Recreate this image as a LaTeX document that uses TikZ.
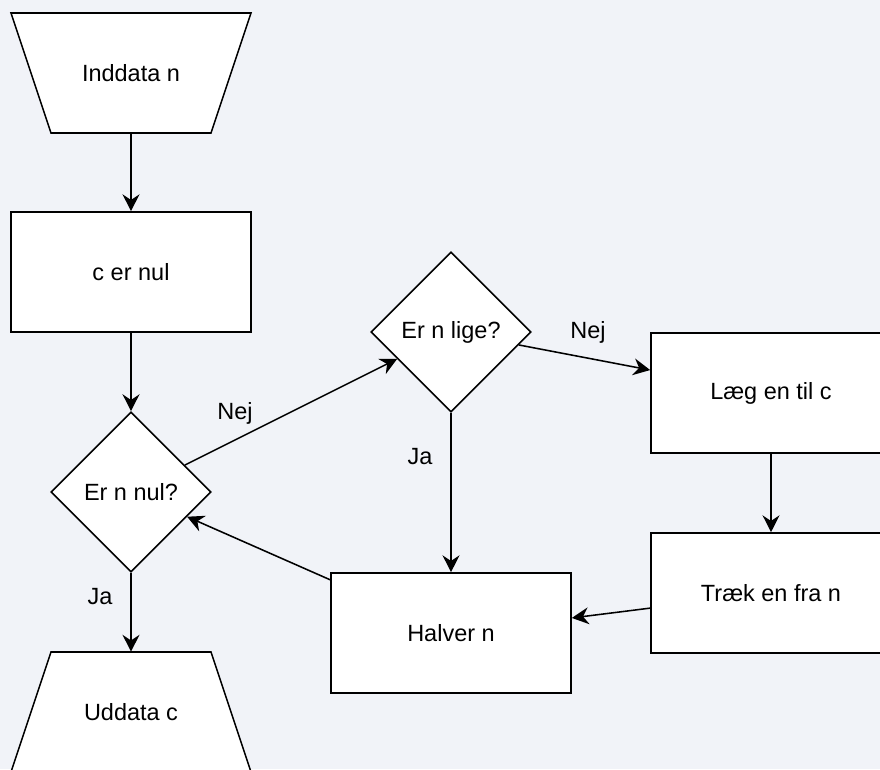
\documentclass[tikz,border=0pt]{standalone}
\usepackage{fontspec}
\setmainfont{Liberation Sans}
\usetikzlibrary{arrows.meta,shapes.geometric}
\definecolor{bgpage}{RGB}{241,243,248}
\tikzset{
  procbox/.style={draw,fill=white,line width=1.1pt,minimum width=6cm,minimum height=3cm,inner sep=0pt},
  choice/.style={draw,fill=white,line width=1.1pt,diamond,aspect=1,minimum width=4cm,minimum height=4cm,inner sep=0pt},
  iobox/.style={minimum width=6cm,minimum height=3cm,inner sep=0pt},
  trap/.style={draw,fill=white,line width=1.1pt,line join=miter},
  arrowline/.style={line width=1.1pt,-{Stealth[length=12pt,width=12pt,inset=4pt]}},
  lbl/.style={inner sep=0pt}
}
\begin{document}
\begin{tikzpicture}[x=0.025cm,y=-0.025cm]\fontsize{16.7}{20}\selectfont
\useasboundingbox (0,0) rectangle (880,769);
\clip (0,0) rectangle (880,769);
\fill[bgpage] (0,0) rectangle (880,769);
% in / out shapes
\path[trap] (11,13) -- (251,13) -- (211,133) -- (51,133) -- cycle;
\path[trap] (51,652) -- (211,652) -- (251,772) -- (11,772) -- cycle;
% boxes
\node[iobox] (inn) at (131,73) {Inddata n};
\node[procbox] (cnul) at (131,272) {c er nul};
\node[choice] (nul) at (131,492) {Er n nul?};
\node[iobox] (ud) at (131,712) {Uddata c};
\node[choice] (lige) at (451,332) {Er n lige?};
\node[procbox] (laeg) at (771,393) {Læg en til c};
\node[procbox] (traek) at (771,593) {Træk en fra n};
\node[procbox] (halver) at (451,633) {Halver n};
% arrows
\draw[arrowline] (inn) -- (cnul);
\draw[arrowline] (cnul) -- (nul);
\draw[arrowline] (nul) -- (lige);
\draw[arrowline] (nul) -- (ud);
\draw[arrowline] (lige) -- (laeg);
\draw[arrowline] (lige) -- (halver);
\draw[arrowline] (laeg) -- (traek);
\draw[arrowline] (traek) -- (halver);
\draw[arrowline] (halver) -- (nul);
% labels
\node[lbl] (nej1) at (235,413) {Nej};
\node[lbl] (ja1) at (100,597) {Ja};
\node[lbl] (nej2) at (588,332) {Nej};
\node[lbl] (ja2) at (420,457) {Ja};
\end{tikzpicture}
\end{document}
